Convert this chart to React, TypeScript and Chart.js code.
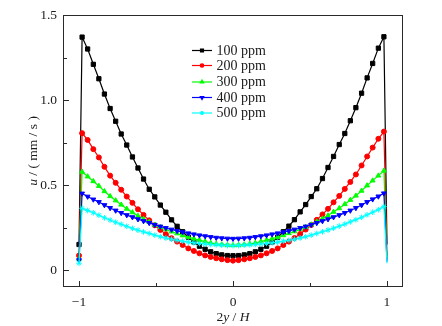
import React, { useEffect, useRef } from 'react';
import { Chart, registerables } from 'chart.js';
import { drawPoint } from 'chart.js/helpers';

Chart.register(...registerables);

// 2y/H positions (wall, interior points, wall)
const xPos = [
  -1, -0.98, -0.944, -0.907, -0.871, -0.835, -0.798, -0.762, -0.726, -0.69, -0.653, -0.617, -0.581, -0.544,
  -0.508, -0.472, -0.436, -0.399, -0.363, -0.327, -0.29, -0.254, -0.218, -0.181, -0.145, -0.109, -0.073, -0.036,
  0,
  0.036, 0.073, 0.109, 0.145, 0.181, 0.218, 0.254, 0.29, 0.327, 0.363, 0.399, 0.436, 0.472, 0.508,
  0.544, 0.581, 0.617, 0.653, 0.69, 0.726, 0.762, 0.798, 0.835, 0.871, 0.907, 0.944, 0.98, 1,
];

const u100 = [
  0.15,
  1.37, 1.30, 1.21, 1.125, 1.035, 0.95, 0.875, 0.80, 0.735, 0.665, 0.60, 0.535, 0.475, 0.43, 0.382, 0.34, 0.295,
  0.257, 0.225, 0.193, 0.165, 0.14, 0.122, 0.107, 0.096, 0.089, 0.085,
  0.084,
  0.085, 0.089, 0.096, 0.107, 0.122, 0.14, 0.165, 0.193, 0.225, 0.258, 0.296, 0.342, 0.385, 0.432, 0.478,
  0.538, 0.603, 0.668, 0.738, 0.803, 0.878, 0.955, 1.04, 1.13, 1.215, 1.305, 1.372,
  0.15,
];
const u200 = [
  0.085,
  0.805, 0.765, 0.711, 0.662, 0.607, 0.555, 0.513, 0.472, 0.432, 0.395, 0.357, 0.324, 0.292, 0.263, 0.236, 0.211,
  0.187, 0.167, 0.147, 0.127, 0.112, 0.098, 0.086, 0.077, 0.069, 0.063, 0.058,
  0.055,
  0.058, 0.063, 0.069, 0.077, 0.086, 0.098, 0.112, 0.127, 0.147, 0.167, 0.188, 0.212, 0.238, 0.265, 0.295,
  0.327, 0.36, 0.398, 0.436, 0.477, 0.518, 0.562, 0.615, 0.668, 0.72, 0.772, 0.814,
  0.085,
];
const u300 = [
  0.065,
  0.578, 0.55, 0.522, 0.494, 0.463, 0.434, 0.409, 0.384, 0.36, 0.339, 0.318, 0.30, 0.282, 0.265, 0.252, 0.239,
  0.226, 0.215, 0.203, 0.194, 0.184, 0.176, 0.167, 0.159, 0.154, 0.15, 0.147,
  0.146,
  0.147, 0.15, 0.154, 0.159, 0.167, 0.176, 0.184, 0.194, 0.204, 0.216, 0.227, 0.24, 0.253, 0.267, 0.284,
  0.302, 0.32, 0.342, 0.363, 0.387, 0.412, 0.437, 0.466, 0.497, 0.526, 0.555, 0.584,
  0.065,
];
const u400 = [
  0.058,
  0.45, 0.432, 0.415, 0.40, 0.382, 0.365, 0.35, 0.336, 0.323, 0.311, 0.299, 0.288, 0.277, 0.266, 0.256, 0.247,
  0.238, 0.23, 0.223, 0.216, 0.21, 0.204, 0.199, 0.194, 0.19, 0.187, 0.185,
  0.184,
  0.185, 0.187, 0.19, 0.194, 0.199, 0.204, 0.21, 0.216, 0.223, 0.23, 0.238, 0.247, 0.256, 0.266, 0.277,
  0.288, 0.299, 0.311, 0.323, 0.336, 0.35, 0.365, 0.382, 0.40, 0.416, 0.433, 0.451,
  0.05,
];
const u500 = [
  0.04,
  0.363, 0.35, 0.337, 0.322, 0.307, 0.294, 0.281, 0.269, 0.257, 0.245, 0.234, 0.224, 0.215, 0.205, 0.196, 0.188,
  0.181, 0.175, 0.17, 0.164, 0.16, 0.156, 0.153, 0.15, 0.148, 0.146, 0.144,
  0.143,
  0.144, 0.146, 0.148, 0.15, 0.153, 0.156, 0.16, 0.164, 0.17, 0.175, 0.181, 0.188, 0.196, 0.205, 0.215,
  0.225, 0.235, 0.246, 0.258, 0.27, 0.283, 0.296, 0.31, 0.325, 0.34, 0.355, 0.373,
  0.04,
];

const seriesNames = ['100 ppm', '200 ppm', '300 ppm', '400 ppm', '500 ppm'];
const seriesValues = [u100, u200, u300, u400, u500];
const seriesColors = ['#000000', '#ff0000', '#00ff00', '#0000ff', '#00ffff'];
const pointStyles = ['rect', 'circle', 'triangle', 'triangle', 'star'];
const pointRotations = [0, 0, 0, 180, 0];
const pointRadii = [3, 2.5, 2.8, 2.8, 2.8];

const xTicks = [-1, 0, 1];
const xTickLabels = ['\u22121', '0', '1'];
const xMinorTicks = [-0.5, 0.5];
const yTicks = [0, 0.5, 1, 1.5];
const yTickLabels = ['0', '0.5', '1.0', '1.5'];
const yMinorTicks = [0.25, 0.75, 1.25];

const FONT = "'Liberation Serif', 'Times New Roman', serif";
const INK = '#1a1a1a';

const decorPlugin = {
  id: 'decor',
  afterDraw(chart: any) {
    const { ctx, chartArea } = chart;
    const { left, right, top, bottom } = chartArea;
    const xs = chart.scales.x;
    const ys = chart.scales.y;
    ctx.save();
    // frame
    ctx.strokeStyle = '#2a2a2a';
    ctx.lineWidth = 1;
    ctx.strokeRect(Math.round(left) + 0.5, Math.round(top) + 0.5, Math.round(right - left) - 1, Math.round(bottom - top) - 1);
    // inward ticks
    ctx.beginPath();
    xTicks.forEach((v) => {
      const px = Math.round(xs.getPixelForValue(v)) + 0.5;
      ctx.moveTo(px, bottom - 1);
      ctx.lineTo(px, bottom - 6);
    });
    xMinorTicks.forEach((v) => {
      const px = Math.round(xs.getPixelForValue(v)) + 0.5;
      ctx.moveTo(px, bottom - 1);
      ctx.lineTo(px, bottom - 4);
    });
    yTicks.forEach((v) => {
      const py = Math.round(ys.getPixelForValue(v)) + 0.5;
      ctx.moveTo(left + 1, py);
      ctx.lineTo(left + 6, py);
    });
    yMinorTicks.forEach((v) => {
      const py = Math.round(ys.getPixelForValue(v)) + 0.5;
      ctx.moveTo(left + 1, py);
      ctx.lineTo(left + 4, py);
    });
    ctx.stroke();

    // mixed-style text helper
    const drawParts = (parts: [string, boolean][], cx: number, cy: number, size: number) => {
      let total = 0;
      const widths = parts.map(([t, it]) => {
        ctx.font = `${it ? 'italic ' : ''}${size}px ${FONT}`;
        const w = ctx.measureText(t).width;
        total += w;
        return w;
      });
      let x = cx - total / 2;
      ctx.textBaseline = 'middle';
      ctx.textAlign = 'left';
      ctx.fillStyle = INK;
      parts.forEach(([t, it], i) => {
        ctx.font = `${it ? 'italic ' : ''}${size}px ${FONT}`;
        ctx.fillText(t, x, cy);
        x += widths[i];
      });
    };

    // x axis title
    drawParts([['2', false], ['y', true], [' / ', false], ['H', true]], xs.getPixelForValue(0), 317, 13.5);
    // y axis title
    ctx.save();
    ctx.translate(33, (top + bottom) / 2);
    ctx.rotate(-Math.PI / 2);
    drawParts([['u', true], [' / ( mm / s )', false]], 0, 0, 13.5);
    ctx.restore();

    // legend
    const rowY = [50.5, 65.5, 82, 97.5, 113];
    seriesNames.forEach((name, i) => {
      const y = rowY[i];
      ctx.strokeStyle = seriesColors[i];
      ctx.lineWidth = 1.2;
      ctx.beginPath();
      ctx.moveTo(192, y);
      ctx.lineTo(212, y);
      ctx.stroke();
      ctx.fillStyle = seriesColors[i];
      drawPoint(ctx, { pointStyle: pointStyles[i] as any, radius: pointRadii[i] * 0.7, rotation: pointRotations[i], borderWidth: 1 }, 202, y);
      ctx.fillStyle = INK;
      ctx.font = `14px ${FONT}`;
      ctx.textAlign = 'left';
      ctx.textBaseline = 'middle';
      ctx.fillText(name, 216.5, y + 0.5);
    });
    ctx.restore();
  },
};

export default function App() {
  const ref = useRef<HTMLCanvasElement | null>(null);
  useEffect(() => {
    if (!ref.current) return;
    const datasets = seriesValues.map((vals, i) => ({
      label: seriesNames[i],
      data: vals.map((v, k) => ({ x: xPos[k], y: v })),
      borderColor: seriesColors[i],
      backgroundColor: seriesColors[i],
      borderWidth: 1.2,
      pointStyle: pointStyles[i],
      pointRotation: pointRotations[i],
      pointRadius: (c: any) => (c.dataIndex === xPos.length - 1 ? 0 : pointRadii[i]),
      pointBorderWidth: 1,
      pointBorderColor: seriesColors[i],
      pointBackgroundColor: seriesColors[i],
      tension: 0,
      order: 5 - i,
    }));
    const chart = new Chart(ref.current, {
      type: 'line',
      data: { datasets },
      options: {
        animation: false,
        responsive: false,
        devicePixelRatio: 1,
        layout: { padding: { left: 0, right: 39, top: 15, bottom: 0 } },
        plugins: { legend: { display: false }, tooltip: { enabled: false } },
        scales: {
          x: {
            type: 'linear',
            min: -1.104,
            max: 1.104,
            grid: { display: false, drawTicks: false },
            border: { display: false },
            afterBuildTicks: (s: any) => {
              s.ticks = xTicks.map((v) => ({ value: v }));
            },
            afterFit: (s: any) => {
              s.height = 39;
            },
            ticks: {
              padding: 7,
              color: INK,
              font: { family: FONT, size: 13.5 },
              maxRotation: 0,
              autoSkip: false,
              callback: (v: any) => xTickLabels[xTicks.indexOf(Number(v))] ?? '',
            },
          },
          y: {
            type: 'linear',
            min: -0.1,
            max: 1.5,
            grid: { display: false, drawTicks: false },
            border: { display: false },
            afterBuildTicks: (s: any) => {
              s.ticks = yTicks.map((v) => ({ value: v }));
            },
            afterFit: (s: any) => {
              s.width = 63;
            },
            ticks: {
              padding: 6,
              color: INK,
              font: { family: FONT, size: 13.5 },
              autoSkip: false,
              callback: (v: any) => yTickLabels[yTicks.indexOf(Number(v))] ?? '',
            },
          },
        },
      },
      plugins: [decorPlugin],
    });
    return () => chart.destroy();
  }, []);
  return (
    <div style={{ position: 'absolute', left: 0, top: 0, width: 442, height: 326, background: '#fff' }}>
      <canvas ref={ref} width={442} height={326} style={{ width: 442, height: 326 }} />
    </div>
  );
}
